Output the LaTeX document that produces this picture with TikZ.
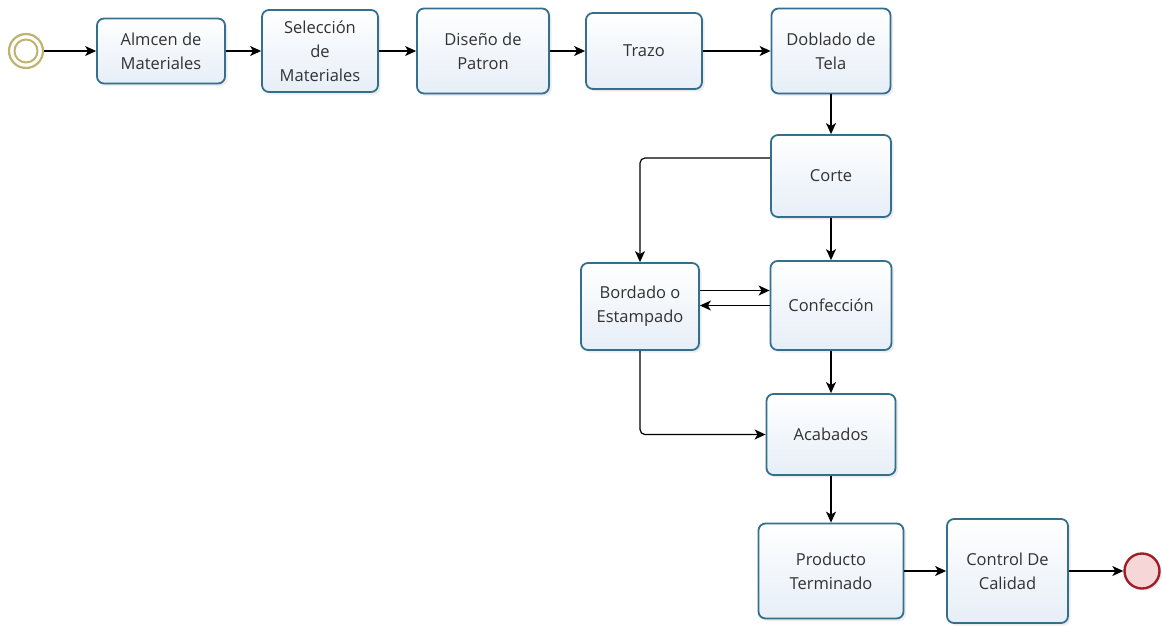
\documentclass[tikz,border=0pt]{standalone}
\usepackage{fontspec}
\setmainfont{Open Sans}
\usepackage{tikz}
\usetikzlibrary{arrows.meta,shadows}

\definecolor{taskline}{RGB}{52,112,142}
\definecolor{taskfill}{RGB}{230,238,247}
\definecolor{startline}{RGB}{190,180,112}
\definecolor{endline}{RGB}{160,30,40}
\definecolor{endfill}{RGB}{246,214,214}
\definecolor{txt}{RGB}{50,50,50}

\begin{document}
\begin{tikzpicture}[x=1pt,y=-1pt,>={Stealth[length=11pt,width=10pt,inset=3pt]},line join=round,
  task/.style={draw=taskline,line width=1.8pt,rounded corners=7pt,
    top color=white,bottom color=taskfill,align=center,text=txt,
    font=\fontsize{16.5}{24}\selectfont,inner sep=2pt,
    drop shadow={opacity=0.15,shadow xshift=2.5pt,shadow yshift=-2.5pt}},
  flow/.style={->,line width=1.2pt,black}]
  \useasboundingbox (0,0) rectangle (1162,625);
  % events
  \node[circle,draw=startline,line width=2.2pt,fill=white,minimum size=34pt,inner sep=0pt] (inicio) at (26,51) {};
  \draw[startline,line width=2pt] (inicio.center) circle (11.5);
  \node[circle,draw=endline,line width=2.4pt,fill=endfill,minimum size=35pt,inner sep=0pt,
    drop shadow={opacity=0.15,shadow xshift=2pt,shadow yshift=-2pt}] (fin) at (1142,571) {};
  % tasks
  \node[task,minimum width=128pt,minimum height=65pt] (almcen) at (161,51) {Almcen de\\Materiales};
  \node[task,minimum width=116pt,minimum height=82pt] (seleccion) at (320,51) {Selección\\de\\Materiales};
  \node[task,minimum width=132pt,minimum height=85pt] (diseno) at (483,51) {Diseño de\\Patron};
  \node[task,minimum width=116pt,minimum height=76pt] (trazo) at (644,51) {Trazo};
  \node[task,minimum width=119pt,minimum height=85pt] (doblado) at (831,51) {Doblado de\\Tela};
  \node[task,minimum width=120pt,minimum height=82pt] (corte) at (831,176) {Corte};
  \node[task,minimum width=118pt,minimum height=87pt] (bordado) at (640,306.5) {Bordado o\\Estampado};
  \node[task,minimum width=121pt,minimum height=89pt] (confeccion) at (831,305.5) {Confección};
  \node[task,minimum width=129pt,minimum height=81pt] (acabados) at (831,434.5) {Acabados};
  \node[task,minimum width=145pt,minimum height=95pt] (producto) at (831,571) {Producto\\Terminado};
  \node[task,minimum width=121pt,minimum height=104pt] (control) at (1007.5,571) {Control De\\Calidad};
  % flows
  \draw[flow] (inicio) -- (almcen);
  \draw[flow] (almcen) -- (seleccion);
  \draw[flow] (seleccion) -- (diseno);
  \draw[flow] (diseno) -- (trazo);
  \draw[flow] (trazo) -- (doblado);
  \draw[flow] (doblado) -- (corte);
  \draw[flow] (corte) -- (confeccion);
  \draw[flow,rounded corners=5pt] ([yshift=18pt]corte.west) -| (bordado.north);
  \draw[flow] ([yshift=16pt]bordado.east) -- ([yshift=16pt]bordado.east -| confeccion.west);
  \draw[flow] (confeccion.west) -- (confeccion.west -| bordado.east);
  \draw[flow] (confeccion) -- (acabados);
  \draw[flow,rounded corners=5pt] (bordado.south) |- (acabados.west);
  \draw[flow] (acabados) -- (producto);
  \draw[flow] (producto) -- (control);
  \draw[flow] (control) -- (fin);
\end{tikzpicture}
\end{document}
